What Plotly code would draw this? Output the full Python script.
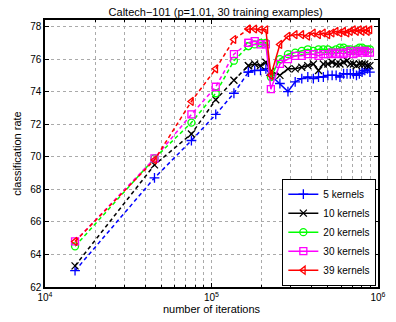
import plotly.graph_objects as go

# iterations = 3030 * k (101 classes x 30 examples)
N_EX = 3030
k_dash = [5, 15, 25, 35, 45, 55]
k_solid = [55, 60, 65, 70, 75, 85, 95, 105, 115, 125, 135, 145, 155, 165, 175,
           185, 195, 205, 215, 225, 235, 245, 255, 265, 275, 285, 295]
x_dash = [N_EX * k for k in k_dash]
x_solid = [N_EX * k for k in k_solid]

names = ["5 kernels", "10 kernels", "20 kernels", "30 kernels", "39 kernels"]
colors = ["#0000ff", "#000000", "#00ff00", "#ff00ff", "#ff0000"]
symbols = ["cross-thin-open", "x-thin-open", "circle-open", "square-open", "triangle-left-open"]

dash_vals = [
    [63.0, 68.7, 71.0, 72.6, 73.9, 75.2],
    [63.3, 69.5, 71.4, 73.5, 74.7, 75.6],
    [64.5, 69.9, 72.1, 73.9, 75.9, 76.8],
    [64.8, 69.9, 72.6, 74.3, 76.3, 77.0],
    [64.8, 69.8, 73.4, 75.4, 77.2, 77.85],
]
solid_vals = [
    [75.2, 75.3, 75.3, 75.4, 75.0, 74.5, 74.0, 74.6, 74.8, 74.9, 74.8, 74.9, 74.9, 75.0,
     75.0, 75.0, 74.9, 75.1, 75.1, 75.1, 75.1, 75.0, 75.1, 75.2, 75.3, 75.4, 75.2],
    [75.6, 75.7, 75.6, 75.8, 75.25, 75.0, 75.4, 75.4, 75.5, 75.6, 75.7, 75.3, 75.7, 75.7,
     75.8, 75.7, 75.7, 75.8, 75.9, 75.7, 75.7, 75.6, 75.7, 75.7, 75.7, 75.6, 75.6],
    [76.8, 76.9, 77.0, 77.0, 74.9, 76.0, 76.3, 76.4, 76.5, 76.6, 76.5, 76.6, 76.6, 76.6,
     76.5, 76.6, 76.7, 76.7, 76.6, 76.6, 76.5, 76.6, 76.7, 76.7, 76.6, 76.6, 76.6],
    [77.0, 77.1, 76.9, 76.9, 74.15, 75.7, 76.0, 76.2, 76.2, 76.3, 76.3, 76.2, 76.3, 76.3,
     76.4, 76.3, 76.4, 76.3, 76.4, 76.5, 76.3, 76.4, 76.5, 76.4, 76.5, 76.4, 76.4],
    [77.85, 77.85, 77.8, 77.8, 75.0, 76.9, 77.4, 77.5, 77.5, 77.4, 77.6, 77.5, 77.6, 77.5,
     77.6, 77.7, 77.6, 77.7, 77.6, 77.7, 77.8, 77.7, 77.8, 77.7, 77.8, 77.7, 77.8],
]

y_ticks = [62, 64, 66, 68, 70, 72, 74, 76, 78]
x_tickvals = [1e4, 1e5, 1e6]
x_ticktext = ["10<sup>4</sup>", "10<sup>5</sup>", "10<sup>6</sup>"]
x_minor = [dec * m for dec in (1e4, 1e5) for m in range(2, 10)]

fig = go.Figure()
for i in range(5):
    fig.add_trace(go.Scatter(
        x=x_dash, y=dash_vals[i], mode="lines+markers", showlegend=False,
        legendgroup=names[i],
        line=dict(color=colors[i], width=1.5, dash="4px,3px"),
        marker=dict(symbol=symbols[i], size=7, color=colors[i],
                    line=dict(color=colors[i], width=1.3)),
    ))
    fig.add_trace(go.Scatter(
        x=x_solid, y=solid_vals[i], mode="lines+markers", name=names[i],
        legendgroup=names[i],
        line=dict(color=colors[i], width=1.5),
        marker=dict(symbol=symbols[i], size=7, color=colors[i],
                    line=dict(color=colors[i], width=1.3)),
    ))

font_family = "Liberation Sans, Arial, Helvetica, sans-serif"
fig.update_layout(
    width=396, height=322,
    margin=dict(l=45, r=10, t=20, b=34),
    paper_bgcolor="white", plot_bgcolor="white",
    font=dict(family=font_family, size=10, color="#000000"),
    title=dict(text="Caltech\u2212101 (p=1.01, 30 training examples)",
               x=0.5445, xanchor="center", y=0.975, yanchor="top",
               font=dict(size=11, family=font_family)),
    legend=dict(x=0.995, xanchor="right", y=0.005, yanchor="bottom",
                bgcolor="white", bordercolor="black", borderwidth=1,
                font=dict(size=10), tracegroupgap=0,
                itemwidth=30),
    showlegend=True,
)
fig.update_xaxes(
    type="log", range=[4, 6], tickvals=x_tickvals, ticktext=x_ticktext,
    showgrid=True, gridcolor="#aaaaaa", griddash="dot", gridwidth=1,
    ticks="inside", ticklen=4, tickcolor="black", mirror="allticks",
    minor=dict(tickvals=x_minor, showgrid=True, gridcolor="#aaaaaa",
               griddash="dot", gridwidth=1, ticks="inside", ticklen=2,
               tickcolor="black"),
    showline=True, linecolor="black", linewidth=1.5,
    zeroline=False, tickfont=dict(size=10),
    title=dict(text="number of iterations", font=dict(size=11), standoff=2),
)
fig.update_yaxes(
    range=[62, 78.4], tickvals=y_ticks,
    showgrid=True, gridcolor="#aaaaaa", griddash="dot", gridwidth=1,
    ticks="inside", ticklen=4, tickcolor="black", mirror="allticks",
    showline=True, linecolor="black", linewidth=1.5,
    zeroline=False, tickfont=dict(size=10),
    title=dict(text="classification rate", font=dict(size=11), standoff=6),
)
fig.write_html("out.html")
